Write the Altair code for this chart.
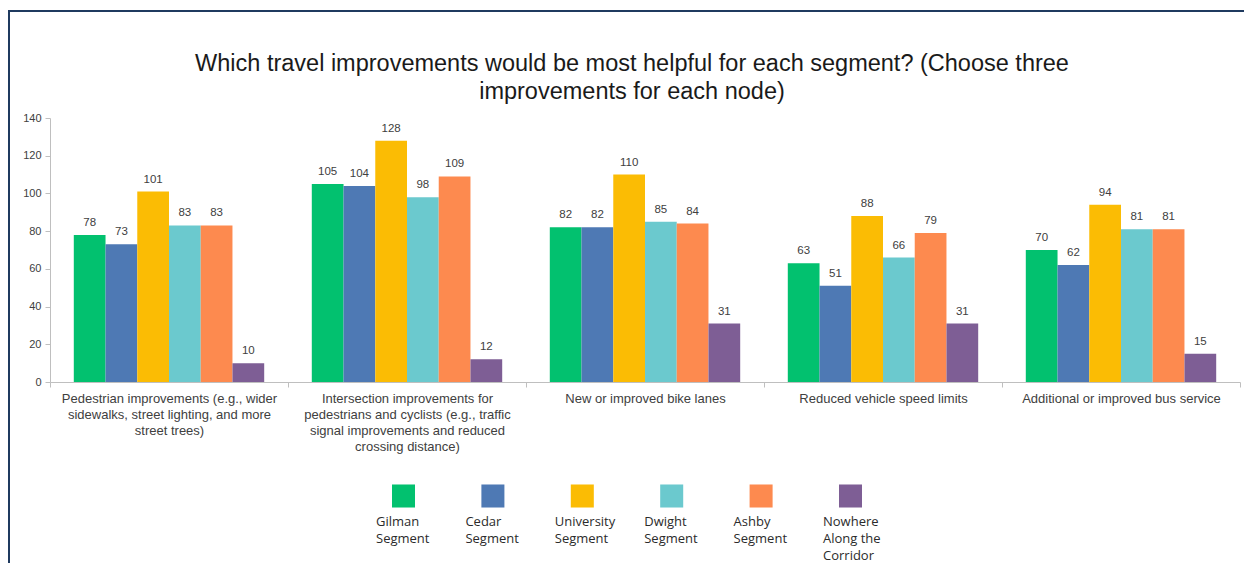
import altair as alt
import pandas as pd

categories = [
    "Pedestrian improvements (e.g., wider|sidewalks, street lighting, and more|street trees)",
    "Intersection improvements for|pedestrians and cyclists (e.g., traffic|signal improvements and reduced|crossing distance)",
    "New or improved bike lanes",
    "Reduced vehicle speed limits",
    "Additional or improved bus service",
]
series = ["Gilman Segment", "Cedar Segment", "University Segment",
          "Dwight Segment", "Ashby Segment", "Nowhere Along the Corridor"]
legend_labels = ["Gilman\nSegment", "Cedar\nSegment", "University\nSegment",
                 "Dwight\nSegment", "Ashby\nSegment", "Nowhere\nAlong the\nCorridor"]
colors = ["#02C16F", "#4E79B4", "#FBBC04", "#6BC9CE", "#FD8A4F", "#7E5E95"]

gilman = [78, 105, 82, 63, 70]
cedar = [73, 104, 82, 51, 62]
university = [101, 128, 110, 88, 94]
dwight = [83, 98, 85, 66, 81]
ashby = [83, 109, 84, 79, 81]
nowhere = [10, 12, 31, 31, 15]

title_lines = ["Which travel improvements would be most helpful for each segment? (Choose three",
               "improvements for each node)"]
y_ticks = [0, 20, 40, 60, 80, 100, 120, 140]

values_by_series = [gilman, cedar, university, dwight, ashby, nowhere]
rows = []
for s, vals in zip(series, values_by_series):
    for c, v in zip(categories, vals):
        rows.append({"category": c, "series": s, "value": v})
df = pd.DataFrame(rows)

color_scale = alt.Scale(domain=series, range=colors)
FONT = "Liberation Sans"
TXT = "#404040"
AX = "#BFBFBF"

x_enc = alt.X("category:N", sort=categories,
              scale=alt.Scale(paddingInner=0, paddingOuter=0),
              axis=alt.Axis(title=None, labelAngle=0, labelExpr="split(datum.label, '|')",
                            tickBand="extent", labelFont=FONT, labelFontSize=13,
                            labelColor=TXT, domainColor=AX, tickColor=AX, tickSize=5,
                            labelPadding=5, labelLineHeight=16, labelLimit=0,
                            labelBaseline="top"))
xo_enc = alt.XOffset("series:N", sort=series,
                     scale=alt.Scale(paddingInner=0, paddingOuter=0.75))
y_axis = alt.Axis(title=None, values=y_ticks, grid=False,
                  labelFont=FONT, labelFontSize=11, labelColor=TXT,
                  labelOverlap=False, labelFlush=False,
                  domainColor=AX, tickColor=AX, tickSize=5, labelPadding=4)
y_enc = alt.Y("value:Q", scale=alt.Scale(domain=[0, 140], nice=False), axis=y_axis)

bars = alt.Chart(df).mark_bar().encode(
    x=x_enc, xOffset=xo_enc, y=y_enc,
    color=alt.Color("series:N", scale=color_scale, legend=None),
)
labels = alt.Chart(df).mark_text(dy=-7, baseline="bottom", font=FONT, fontSize=11.5,
                                 color=TXT).encode(
    x=x_enc, xOffset=xo_enc, y=y_enc, text="value:Q",
)
main = alt.layer(bars, labels)

leg_df = pd.DataFrame({"series": series, "label": legend_labels})
leg_x = alt.X("series:N", sort=series, axis=None,
              scale=alt.Scale(type="point", domain=series, range=[353.5, 800.5], padding=0))
leg_sq = alt.Chart(leg_df).mark_square(size=530, opacity=1).encode(
    x=leg_x, y=alt.value(378),
    color=alt.Color("series:N", scale=color_scale, legend=None),
)
leg_txt = alt.Chart(leg_df).mark_text(align="left", baseline="top", dx=-27.5, dy=1,
                                      font="Open Sans", fontSize=13, lineHeight=17,
                                      color="#2b2b2b", lineBreak="\n").encode(
    x=leg_x, y=alt.value(397), text="label:N",
)
legend = alt.layer(leg_sq, leg_txt)

title_df = pd.DataFrame({"t": ["\n".join(title_lines)]})
title = alt.Chart(title_df).mark_text(align="center", baseline="top", font=FONT,
                                      fontSize=23.5, lineHeight=28, color="#1a1a1a",
                                      lineBreak="\n").encode(
    x=alt.value(582), y=alt.value(-66), text="t:N")

dummy = pd.DataFrame({"a": [0]})
frame_top = alt.Chart(dummy).mark_rule(color="#1F3A5F", strokeWidth=2).encode(
    x=alt.value(-42), x2=alt.value(1194), y=alt.value(-107))
frame_left = alt.Chart(dummy).mark_rule(color="#1F3A5F", strokeWidth=2).encode(
    x=alt.value(-41), y=alt.value(-107), y2=alt.value(450))

chart = alt.layer(main, legend, title, frame_top, frame_left).resolve_scale(
    x="independent"
).properties(
    width=1190, height=264,
    autosize=alt.AutoSizeParams(type="none"),
    padding={"left": 42, "top": 110, "right": 4, "bottom": 181},
    background="white",
).configure_view(strokeWidth=0)

chart.save("out.html", embed_options={"renderer": "svg", "actions": False})
